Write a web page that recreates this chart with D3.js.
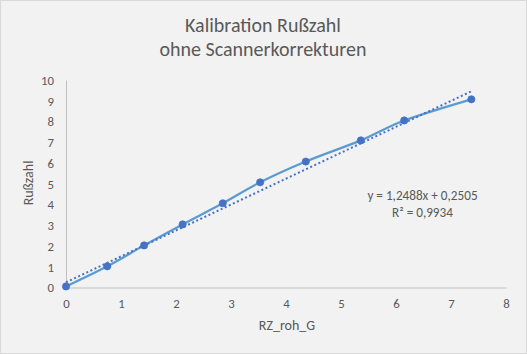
<!DOCTYPE html>
<html>
<head>
<meta charset="utf-8">
<script src="https://cdn.jsdelivr.net/npm/d3@7"></script>
<style>
  html, body { margin: 0; padding: 0; background: #fff; }
  text { font-family: Calibri, Carlito, Lato, sans-serif; fill: #595959; }
</style>
</head>
<body>
<div id="chart"></div>
<script>
// Messwerte
var rzRoh = [0, 0.75, 1.42, 2.12, 2.85, 3.53, 4.36, 5.36, 6.15, 7.37];
var russzahl = [0.05, 1.02, 2.03, 3.04, 4.06, 5.07, 6.07, 7.09, 8.05, 9.07];
var xTicks = [0, 1, 2, 3, 4, 5, 6, 7, 8];
var yTicks = [0, 1, 2, 3, 4, 5, 6, 7, 8, 9, 10];
// lineare Trendlinie aus Excel
var trendSlope = 1.2488, trendIntercept = 0.2505;
var titleLines = ["Kalibration Rußzahl", "ohne Scannerkorrekturen"];
var eqLines = ["y = 1,2488x + 0,2505", "R² = 0,9934"];

function KalibChart(divId) {
    d3.select(divId).html("");

    var width = 527,
        height = 354;

    var svg = d3.select(divId)
        .append("svg")
        .attr("width", width)
        .attr("height", height);

    svg.append("rect")
        .attr("x", 0.5).attr("y", 0.5)
        .attr("width", width - 1).attr("height", height - 1)
        .attr("fill", "#f2f2f2")
        .attr("stroke", "#d9d9d9");

    var x = d3.scaleLinear().domain([0, 8]).range([66, 506]);
    var y = d3.scaleLinear().domain([0, 10]).range([287.5, 80]);

    // Titel
    svg.append("g").selectAll("text")
        .data(titleLines)
        .enter()
        .append("text")
        .attr("x", 263)
        .attr("y", function(d, i){ return 32 + i * 24; })
        .attr("text-anchor", "middle")
        .style("font-size", "20px")
        .text(function(d){ return d; });

    // Achsen
    var xAxis = svg.append("g")
        .attr("transform", "translate(0," + y(0) + ")")
        .call(d3.axisBottom(x).tickValues(xTicks).tickSize(0).tickPadding(10));
    var yAxis = svg.append("g")
        .attr("transform", "translate(" + x(0) + ",0)")
        .call(d3.axisLeft(y).tickValues(yTicks).tickSize(0).tickPadding(12));

    [xAxis, yAxis].forEach(function(a){
        a.select(".domain").attr("stroke", "#bfbfbf").attr("stroke-width", 1);
        a.selectAll("text")
            .style("font-size", "12.8px")
            .attr("fill", "#595959");
    });
    xAxis.selectAll("text").attr("dy", "0.85em");
    yAxis.selectAll("text").attr("dy", "0.35em");

    svg.append("text")
        .attr("x", 287)
        .attr("y", 330)
        .attr("text-anchor", "middle")
        .style("font-size", "14px")
        .text("RZ_roh_G");

    svg.append("text")
        .attr("transform", "translate(33,183) rotate(-90)")
        .attr("text-anchor", "middle")
        .style("font-size", "14px")
        .text("Rußzahl");

    var pts = rzRoh.map(function(d, i){ return [d, russzahl[i]]; });

    // Messkurve (geglaettet)
    var line = d3.line()
        .x(function(d){ return x(d[0]); })
        .y(function(d){ return y(d[1]); })
        .curve(d3.curveCardinal.tension(0));

    svg.append("path")
        .datum(pts)
        .attr("d", line)
        .attr("fill", "none")
        .attr("stroke", "#5b9bd5")
        .attr("stroke-width", 2.25)
        .attr("stroke-linecap", "round");

    // Trendlinie
    var xMax = d3.max(rzRoh);
    svg.append("line")
        .attr("x1", x(0))
        .attr("y1", y(trendIntercept))
        .attr("x2", x(xMax))
        .attr("y2", y(trendIntercept + trendSlope * xMax))
        .attr("stroke", "#4472c4")
        .attr("stroke-width", 2)
        .attr("stroke-dasharray", "2,2.5");

    svg.append("g")
        .selectAll("circle")
        .data(pts)
        .enter()
        .append("circle")
        .attr("cx", function(d){ return x(d[0]); })
        .attr("cy", function(d){ return y(d[1]); })
        .attr("r", 3.6)
        .attr("fill", "#4472c4")
        .attr("stroke", "#4472c4")
        .attr("stroke-width", 0.75);

    // Gleichung
    svg.append("g").selectAll("text")
        .data(eqLines)
        .enter()
        .append("text")
        .attr("x", 422.5)
        .attr("y", function(d, i){ return 200 + i * 16.5; })
        .attr("text-anchor", "middle")
        .style("font-size", "13.2px")
        .text(function(d){ return d; });
}

KalibChart("#chart");
</script>
</body>
</html>
